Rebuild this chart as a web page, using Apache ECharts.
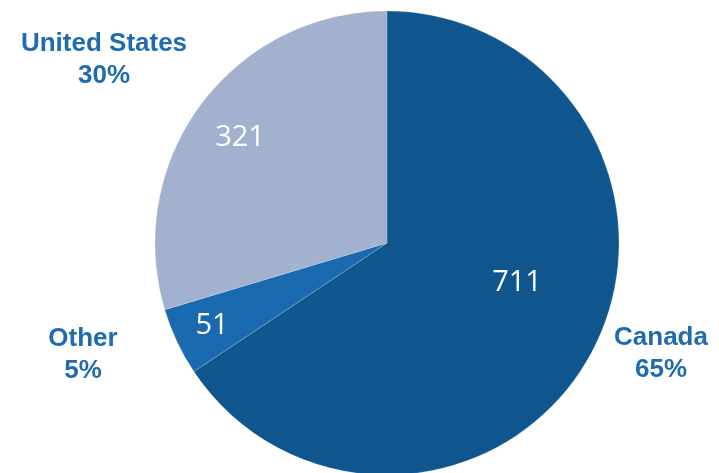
<!DOCTYPE html>
<html>
<head>
<meta charset="utf-8">
<script src="https://cdn.jsdelivr.net/npm/echarts@6/dist/echarts.min.js"></script>
<style>
  html, body { margin: 0; padding: 0; background: #ffffff; }
  #chart { width: 719px; height: 473px; }
</style>
</head>
<body>
<div id="chart"></div>
<script>
// Slices, clockwise from 12 o'clock
const regions = ['Canada', 'Other', 'United States'];
const counts = [711, 51, 321];
const shareLabels = [65, 5, 30];   // percentages as printed beside the pie
const sliceColors = ['#10568e', '#1a6aaf', '#a2b1ce'];

// Label placement, relative to the pie centre
const valueLabelShift = [[130, 40], [-175, 83], [-147, -105]];
const nameLabelShift = [[274, 111], [-304, 112], [-283, -183]];

const pieData = regions.map((name, i) => ({
  name: name,
  value: counts[i],
  itemStyle: { color: sliceColors[i] }
}));

const chart = echarts.init(document.getElementById('chart'), null, { renderer: 'canvas' });

chart.setOption({
  animation: false,
  backgroundColor: '#ffffff',
  series: [
    {
      type: 'pie',
      center: [387, 243],
      radius: 232,
      startAngle: 90,
      clockwise: true,
      data: pieData,
      itemStyle: { borderColor: 'rgba(255,255,255,0.35)', borderWidth: 0.5 },
      label: {
        show: true,
        position: 'center',
        formatter: '{c}',
        color: '#ffffff',
        fontFamily: 'Open Sans',
        fontWeight: 'normal',
        fontSize: 29
      },
      labelLine: { show: false },
      labelLayout: function (p) {
        const s = valueLabelShift[p.dataIndex];
        return { dx: s[0], dy: s[1] };
      }
    },
    {
      type: 'pie',
      silent: true,
      center: [387, 243],
      radius: 232,
      startAngle: 90,
      clockwise: true,
      data: regions.map((name, i) => ({ name: name, value: counts[i] })),
      itemStyle: { color: 'rgba(0,0,0,0)' },
      label: {
        show: true,
        position: 'center',
        formatter: function (p) {
          return p.name + '\n' + shareLabels[p.dataIndex] + '%';
        },
        color: '#1f6bb0',
        fontFamily: 'Liberation Sans, Arial, sans-serif',
        fontWeight: 'bold',
        fontSize: 26,
        lineHeight: 32,
        align: 'center'
      },
      labelLine: { show: false },
      labelLayout: function (p) {
        const s = nameLabelShift[p.dataIndex];
        return { dx: s[0], dy: s[1] };
      }
    }
  ]
});
</script>
</body>
</html>
